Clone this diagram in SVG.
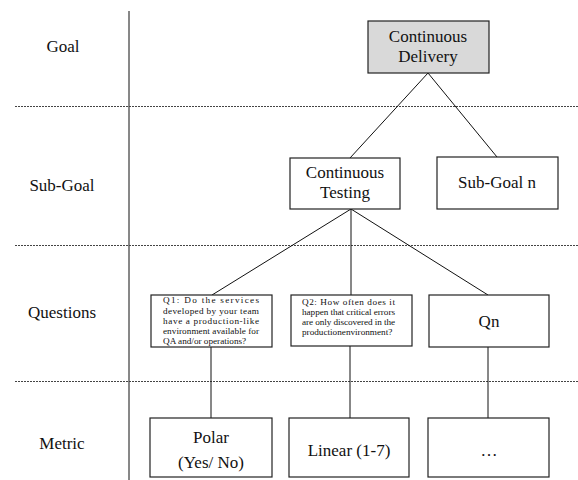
<svg xmlns="http://www.w3.org/2000/svg" width="578" height="480" viewBox="0 0 578 480" font-family="'Liberation Serif', 'Times New Roman', serif">
<style>
text{font-family:'Liberation Serif','Times New Roman',Times,serif;fill:#111}
.lbl{font-size:17px;text-anchor:middle}
.bt{font-size:17px;text-anchor:middle}
.q{font-size:9.2px}
.box{fill:#fff;stroke:#222;stroke-width:1.2}
.goal{fill:#d9d9d9;stroke:#222;stroke-width:1.2}
.dash{stroke:#444;stroke-width:1;stroke-dasharray:2 1;fill:none}
.ln{stroke:#111;stroke-width:1;fill:none}
</style>
<rect width="578" height="480" fill="#fff"/>
<g id="frame">
<line class="ln" x1="129" y1="11" x2="129" y2="480"/>
<line class="dash" x1="15" y1="106.5" x2="578" y2="106.5"/>
<line class="dash" x1="15" y1="245.5" x2="578" y2="245.5"/>
<line class="dash" x1="15" y1="381.5" x2="578" y2="381.5"/>
</g>
<g id="labels">
<text class="lbl" x="63" y="52">Goal</text>
<text class="lbl" x="62" y="191">Sub-Goal</text>
<text class="lbl" x="62" y="318">Questions</text>
<text class="lbl" x="62" y="449">Metric</text>
</g>
<g id="connectors">
<line class="ln" x1="428" y1="73" x2="350" y2="158"/>
<line class="ln" x1="428" y1="73" x2="497" y2="157"/>
<line class="ln" x1="351" y1="209" x2="212" y2="295"/>
<line class="ln" x1="351" y1="209" x2="351" y2="295"/>
<line class="ln" x1="351" y1="209" x2="488" y2="295"/>
<line class="ln" x1="211" y1="347" x2="211" y2="418"/>
<line class="ln" x1="350" y1="346" x2="350" y2="418"/>
<line class="ln" x1="488" y1="347" x2="488" y2="418"/>
</g>
<g id="goal">
<rect class="goal" x="368" y="21" width="121" height="52"/>
<text class="bt" x="428" y="42">Continuous</text>
<text class="bt" x="428" y="62">Delivery</text>
</g>
<g id="subgoal-ct">
<rect class="box" x="290" y="158" width="110" height="51"/>
<text class="bt" x="345" y="178">Continuous</text>
<text class="bt" x="345" y="198">Testing</text>
</g>
<g id="subgoal-n">
<rect class="box" x="437" y="157" width="121" height="52"/>
<text class="bt" x="497" y="188">Sub-Goal n</text>
</g>
<g id="q1">
<rect class="box" x="151" y="295" width="121" height="52"/>
<text class="q" x="163" y="303" textLength="96" lengthAdjust="spacing">Q1: Do the services</text>
<text class="q" x="163" y="314" textLength="96" lengthAdjust="spacing">developed by your team</text>
<text class="q" x="163" y="324" textLength="96" lengthAdjust="spacing">have a production-like</text>
<text class="q" x="163" y="334" textLength="96" lengthAdjust="spacing">environment available for</text>
<text class="q" x="163" y="344">QA and/or operations?</text>
</g>
<g id="q2">
<rect class="box" x="291" y="295" width="121" height="51"/>
<text class="q" x="302" y="305" textLength="93" lengthAdjust="spacing">Q2: How often does it</text>
<text class="q" x="302" y="315" textLength="93" lengthAdjust="spacing">happen that critical errors</text>
<text class="q" x="302" y="325" textLength="93" lengthAdjust="spacing">are only discovered in the</text>
<text class="q" x="302" y="335">productionenvironment?</text>
</g>
<g id="qn">
<rect class="box" x="429" y="295" width="120" height="52"/>
<text class="bt" x="489" y="327">Qn</text>
</g>
<g id="m1">
<rect class="box" x="150" y="418" width="122" height="59"/>
<text class="bt" x="211" y="443">Polar</text>
<text class="bt" x="211" y="468">(Yes/ No)</text>
</g>
<g id="m2">
<rect class="box" x="289" y="418" width="120" height="59"/>
<text class="bt" x="349" y="456">Linear (1-7)</text>
</g>
<g id="mn">
<rect class="box" x="428" y="418" width="121" height="59"/>
<text class="bt" x="489" y="456">…</text>
</g>
</svg>
